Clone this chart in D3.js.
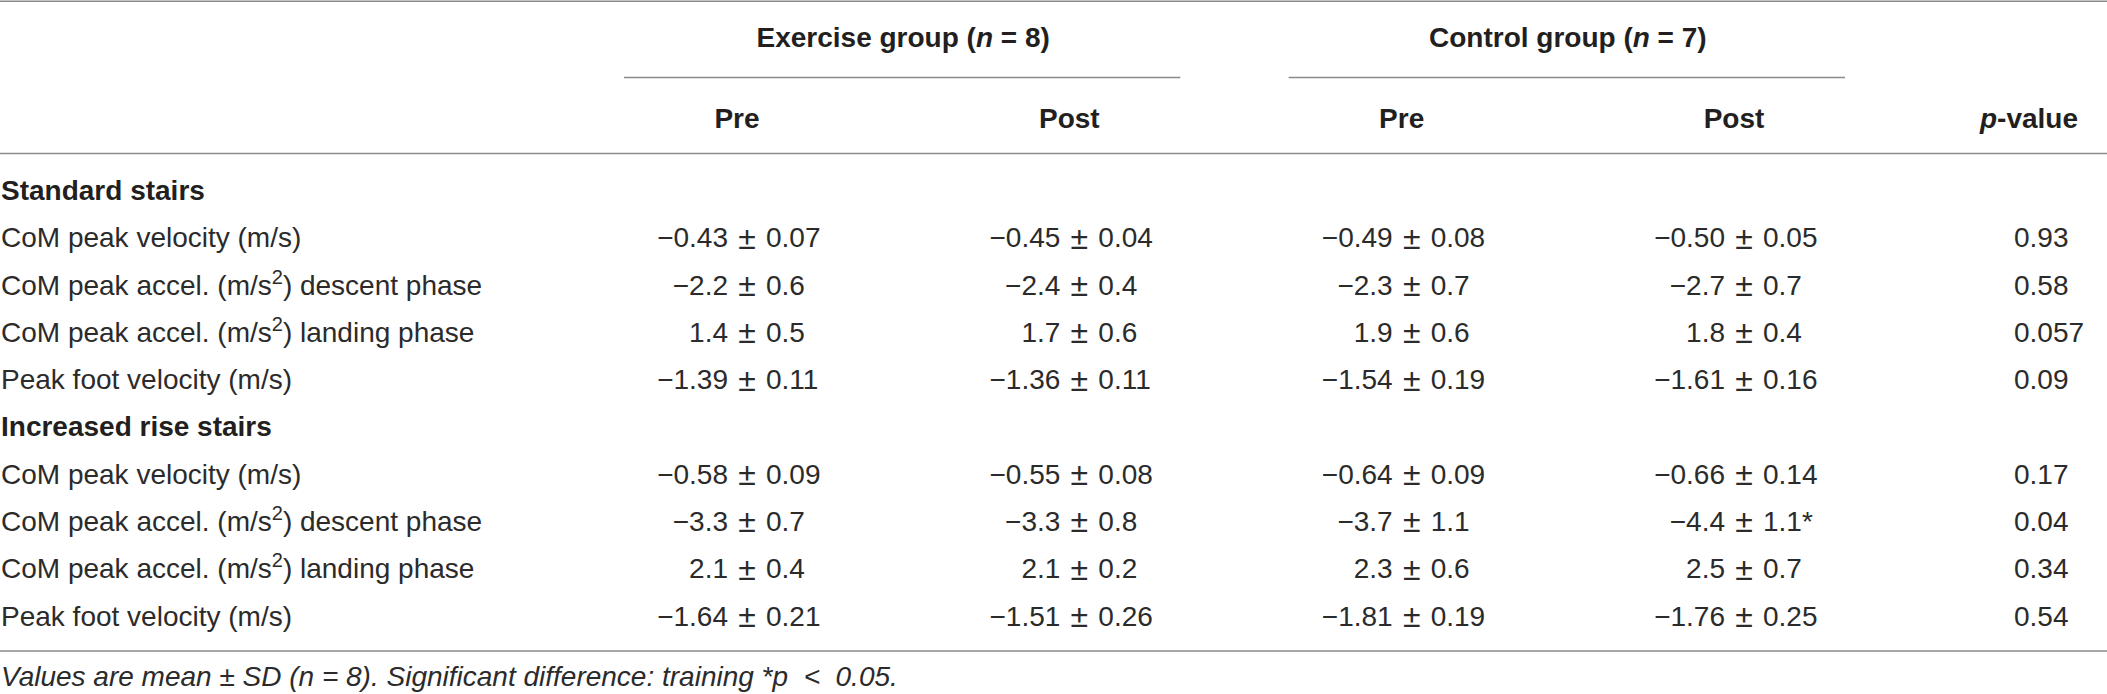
<!DOCTYPE html>
<html>
<head>
<meta charset="utf-8">
<style>
  body { margin: 0; background: #fff; }
  svg text { font-family: "Liberation Sans", Arial, sans-serif; fill: #231f20; }
  .hd { font-weight: bold; font-size: 28px; }
  .cell { font-size: 28px; fill: #2b2b2b; }
  .rule { stroke: #8a8a8a; stroke-width: 1.6px; }
</style>
</head>
<body>
<script src="https://cdn.jsdelivr.net/npm/d3@7"></script>
<script>
// table content
var columns = ["exPre", "exPost", "coPre", "coPost"];
var subHeads = ["Pre", "Post", "Pre", "Post"];
var groups = [
  {name: "Exercise group", n: 8, cols: ["exPre", "exPost"]},
  {name: "Control group", n: 7, cols: ["coPre", "coPost"]}
];

// rows: section headers have no values
var rowLabels = [
  "Standard stairs",
  "CoM peak velocity (m/s)",
  "CoM peak accel. (m/s2) descent phase",
  "CoM peak accel. (m/s2) landing phase",
  "Peak foot velocity (m/s)",
  "Increased rise stairs",
  "CoM peak velocity (m/s)",
  "CoM peak accel. (m/s2) descent phase",
  "CoM peak accel. (m/s2) landing phase",
  "Peak foot velocity (m/s)"
];
var sectionRows = [0, 5];

var exPre  = [null, "−0.43 ± 0.07", "−2.2 ± 0.6", "1.4 ± 0.5", "−1.39 ± 0.11", null, "−0.58 ± 0.09", "−3.3 ± 0.7", "2.1 ± 0.4", "−1.64 ± 0.21"];
var exPost = [null, "−0.45 ± 0.04", "−2.4 ± 0.4", "1.7 ± 0.6", "−1.36 ± 0.11", null, "−0.55 ± 0.08", "−3.3 ± 0.8", "2.1 ± 0.2", "−1.51 ± 0.26"];
var coPre  = [null, "−0.49 ± 0.08", "−2.3 ± 0.7", "1.9 ± 0.6", "−1.54 ± 0.19", null, "−0.64 ± 0.09", "−3.7 ± 1.1", "2.3 ± 0.6", "−1.81 ± 0.19"];
var coPost = [null, "−0.50 ± 0.05", "−2.7 ± 0.7", "1.8 ± 0.4", "−1.61 ± 0.16", null, "−0.66 ± 0.14", "−4.4 ± 1.1*", "2.5 ± 0.7", "−1.76 ± 0.25"];
var pValues = [null, "0.93", "0.58", "0.057", "0.09", null, "0.17", "0.04", "0.34", "0.54"];

var footnote = "Values are mean ± SD (n = 8). Significant difference: training *p  <  0.05.";

var values = {exPre: exPre, exPost: exPost, coPre: coPre, coPost: coPost};

var W = 2107, H = 694;
var svg = d3.select("body").append("svg")
    .attr("width", W)
    .attr("height", H);

// x: position of the ± sign in each column
var x = d3.scalePoint().domain(columns).range([747, 1744]);
// y: row centres
var y = d3.scaleLinear().domain([0, rowLabels.length - 1]).range([190, 615.5]);
var pX = 2014;

function hline(x1, x2, yy) {
  svg.append("line").attr("class", "rule")
      .attr("x1", x1).attr("x2", x2).attr("y1", yy).attr("y2", yy);
}

hline(0, W, 1.2);
hline(0, W, 153.5);
hline(0, W, 651);

// group headers
groups.forEach(function(g) {
  var a = x(g.cols[0]), b = x(g.cols[1]);
  var cx = (a + b) / 2 - 10;
  var t = svg.append("text").attr("class", "hd")
      .attr("x", cx).attr("y", 37).attr("dy", "0.36em")
      .attr("text-anchor", "middle");
  t.append("tspan").text(g.name + " (");
  t.append("tspan").style("font-style", "italic").text("n");
  t.append("tspan").text(" = " + g.n + ")");
  hline(a - 123, b + 101, 77.5);
});

// sub headers
svg.selectAll("text.sub").data(columns).enter().append("text")
    .attr("class", "hd sub")
    .attr("x", function(d) { return x(d) - 10; })
    .attr("y", 118).attr("dy", "0.36em")
    .attr("text-anchor", "middle")
    .text(function(d, i) { return subHeads[i]; });

var ph = svg.append("text").attr("class", "hd")
    .attr("x", 2029).attr("y", 118).attr("dy", "0.36em")
    .attr("text-anchor", "middle");
ph.append("tspan").style("font-style", "italic").text("p");
ph.append("tspan").text("-value");

// row labels
rowLabels.forEach(function(lab, i) {
  var isSec = sectionRows.indexOf(i) >= 0;
  var t = svg.append("text")
      .attr("class", isSec ? "hd" : "cell")
      .attr("x", 1).attr("y", y(i)).attr("dy", "0.36em");
  var parts = lab.split("s2)");
  if (parts.length > 1) {
    t.append("tspan").text(parts[0] + "s");
    t.append("tspan").attr("dy", -11).style("font-size", "20px").text("2");
    t.append("tspan").attr("dy", 11).text(")" + parts[1]);
  } else {
    t.text(lab);
  }
});

// value cells, aligned on the ± sign
columns.forEach(function(c) {
  var cx = x(c);
  values[c].forEach(function(v, i) {
    if (!v) return;
    var s = v.split("±");
    var g = svg.append("g").attr("transform", "translate(" + cx + "," + y(i) + ")");
    g.append("text").attr("class", "cell").attr("x", -19).attr("dy", "0.36em")
        .attr("text-anchor", "end").text(s[0].trim());
    g.append("text").attr("class", "cell").attr("x", 0).attr("dy", "0.36em")
        .attr("text-anchor", "middle").style("font-size", "32px").text("±");
    g.append("text").attr("class", "cell").attr("x", 19).attr("dy", "0.36em")
        .attr("text-anchor", "start").text(s[1].trim());
  });
});

// p-values
svg.selectAll("text.pv").data(pValues).enter()
  .filter(function(d) { return d; })
  .append("text").attr("class", "cell pv")
    .attr("x", pX)
    .attr("y", function(d) { return y(pValues.indexOf(d)); })
    .attr("dy", "0.36em")
    .text(function(d) { return d; });

// footnote
svg.append("text").attr("class", "cell")
    .attr("x", 1).attr("y", 676).attr("dy", "0.36em")
    .attr("xml:space", "preserve")
    .style("font-style", "italic")
    .style("white-space", "pre")
    .text(footnote);
</script>
</body>
</html>
